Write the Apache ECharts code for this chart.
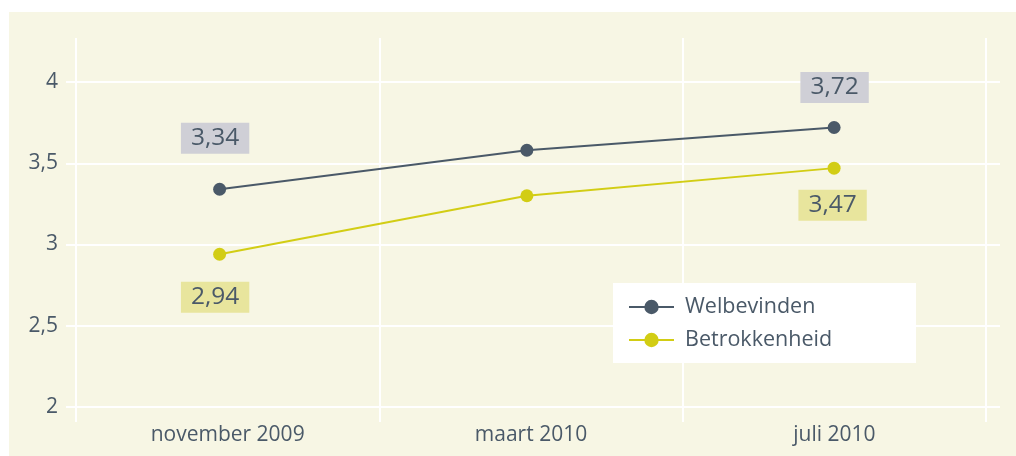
<!DOCTYPE html>
<html>
<head>
<meta charset="utf-8">
<script src="https://cdn.jsdelivr.net/npm/echarts@6/dist/echarts.min.js"></script>
<style>
html,body{margin:0;padding:0;background:#ffffff;}
#chart{width:1016px;height:456px;}
</style>
</head>
<body>
<div id="chart"></div>
<script>
var categories = ['november 2009', 'maart 2010', 'juli 2010'];
var welbevinden = [3.34, 3.58, 3.72];
var betrokkenheid = [2.94, 3.30, 3.47];
var seriesNames = ['Welbevinden', 'Betrokkenheid'];
var labelledPoints = [0, 2];

var FONT = "'Open Sans', 'DejaVu Sans', sans-serif";
var TXT = '#4a5968';
var C_W = '#4a5968';
var C_B = '#d2cd14';

function fmt(v) { return String(v).replace('.', ','); }

function buildData(values, labelBg, offsets) {
  return values.map(function (v, i) {
    var item = { value: [i, v] };
    var k = labelledPoints.indexOf(i);
    if (k >= 0) {
      item.label = {
        show: true,
        position: 'inside',
        offset: offsets[k],
        formatter: function (p) { return fmt(p.value[1].toFixed(2)); },
        fontFamily: FONT,
        fontSize: 24.5,
        lineHeight: 24,
        color: TXT,
        backgroundColor: labelBg,
        padding: [4, 10, 3, 10]
      };
    }
    return item;
  });
}

var chart = echarts.init(document.getElementById('chart'));
chart.setOption({
  backgroundColor: '#ffffff',
  animation: false,
  graphic: [{
    type: 'rect', left: 9, top: 12, z: -10, silent: true,
    shape: { width: 1007, height: 444 },
    style: { fill: '#f7f6e4' }
  }],
  grid: [
    { left: 66, right: 16, top: 82, bottom: 49 },
    { left: 76, right: 30, top: 38, bottom: 34 }
  ],
  xAxis: [
    { type: 'value', gridIndex: 0, min: -0.5, max: 2.54, show: false },
    {
      type: 'category', gridIndex: 1, data: categories, boundaryGap: true,
      axisLine: { show: false }, axisTick: { show: false },
      axisLabel: { fontFamily: FONT, fontSize: 21, color: TXT, margin: 3 },
      splitLine: { show: true, lineStyle: { color: '#ffffff', width: 2 } }
    }
  ],
  yAxis: [
    {
      type: 'value', gridIndex: 0, min: 2, max: 4, interval: 0.5,
      axisLine: { show: false }, axisTick: { show: false },
      axisLabel: { fontFamily: FONT, fontSize: 21, color: TXT, margin: 8, formatter: fmt },
      splitLine: { show: true, lineStyle: { color: '#ffffff', width: 2 } }
    },
    { type: 'value', gridIndex: 1, show: false, min: 0, max: 1, splitLine: { show: false } }
  ],
  legend: {
    data: seriesNames,
    orient: 'vertical',
    left: 613, top: 283,
    backgroundColor: '#ffffff',
    padding: [13, 84, 12, 15],
    itemWidth: 45, itemHeight: 18, itemGap: 11,
    selectedMode: false,
    textStyle: { fontFamily: FONT, fontSize: 21.5, color: TXT, padding: [0, 0, 0, 6] }
  },
  series: [
    {
      name: seriesNames[0], type: 'line', xAxisIndex: 0, yAxisIndex: 0,
      data: buildData(welbevinden, '#cfcfd6', [[-4.5, -51], [0.5, -40]]),
      symbol: 'circle', symbolSize: 13,
      itemStyle: { color: C_W }, lineStyle: { color: C_W, width: 2 },
      z: 3
    },
    {
      name: seriesNames[1], type: 'line', xAxisIndex: 0, yAxisIndex: 0,
      data: buildData(betrokkenheid, '#e8e59d', [[-4.5, 43], [-1.5, 37]]),
      symbol: 'circle', symbolSize: 13,
      itemStyle: { color: C_B }, lineStyle: { color: C_B, width: 2 },
      z: 3
    }
  ]
});
</script>
</body>
</html>
